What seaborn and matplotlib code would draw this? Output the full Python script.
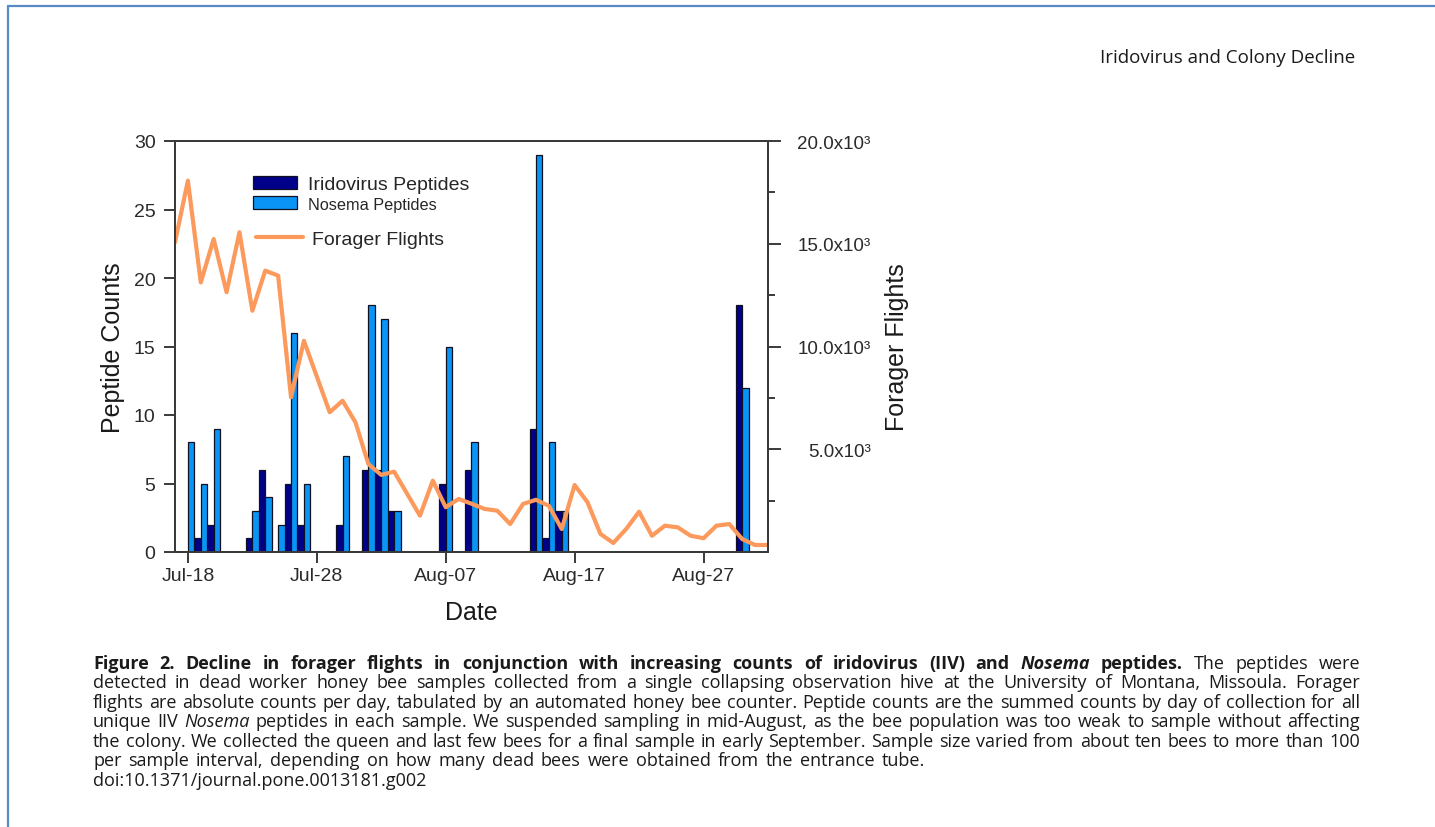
import pandas as pd
import numpy as np
import matplotlib
matplotlib.use("Agg")
import matplotlib.pyplot as plt
import matplotlib.dates as mdates
from matplotlib.lines import Line2D
import seaborn as sns

W, H = 1435, 828

# peptide samples (day of collection)
sample_dates = ["2009-07-18", "2009-07-19", "2009-07-20", "2009-07-23", "2009-07-24",
                "2009-07-25", "2009-07-26", "2009-07-27", "2009-07-30", "2009-08-01",
                "2009-08-02", "2009-08-03", "2009-08-07", "2009-08-09", "2009-08-14",
                "2009-08-15", "2009-08-16", "2009-08-30"]
iridovirus = [0, 1, 2, 1, 6, 0, 5, 2, 2, 6, 6, 3, 5, 6, 9, 1, 3, 18]
nosema = [8, 5, 9, 3, 4, 2, 16, 5, 7, 18, 17, 3, 15, 8, 29, 8, 3, 12]

# forager flights per day
flight_dates = ["2009-07-17", "2009-07-18", "2009-07-19", "2009-07-20", "2009-07-21",
                "2009-07-22", "2009-07-23", "2009-07-24", "2009-07-25", "2009-07-26",
                "2009-07-27", "2009-07-29", "2009-07-30", "2009-07-31", "2009-08-01",
                "2009-08-02", "2009-08-03", "2009-08-05", "2009-08-06", "2009-08-07",
                "2009-08-08", "2009-08-09", "2009-08-10", "2009-08-11", "2009-08-12",
                "2009-08-13", "2009-08-14", "2009-08-15", "2009-08-16", "2009-08-17",
                "2009-08-18", "2009-08-19", "2009-08-20", "2009-08-21", "2009-08-22",
                "2009-08-23", "2009-08-24", "2009-08-25", "2009-08-26", "2009-08-27",
                "2009-08-28", "2009-08-29", "2009-08-30", "2009-08-31", "2009-09-01"]
forager_flights = [15070, 18070, 13120, 15230, 12640, 15560, 11740, 13690, 13450, 7530,
                   10280, 6800, 7360, 6310, 4280, 3750, 3910, 1770, 3470, 2180,
                   2580, 2350, 2100, 2010, 1360, 2340, 2540, 2250, 1120, 3260,
                   2420, 880, 440, 1120, 1960, 790, 1280, 1200, 790, 670,
                   1280, 1360, 630, 340, 340]

date_ticks = ["2009-07-18", "2009-07-28", "2009-08-07", "2009-08-17", "2009-08-27"]
flight_ticks = [5000, 10000, 15000, 20000]
flight_tick_labels = ["5.0x10³", "10.0x10³", "15.0x10³", "20.0x10³"]

DARK = "#00008B"
LIGHT = "#0A94F5"
ORANGE = "#FB9A5C"
SPINE = "#3a3a3a"

sns.set_style("ticks")
plt.rcParams["font.family"] = ["Liberation Sans", "DejaVu Sans"]

fig = plt.figure(figsize=(W / 100, H / 100), dpi=100)
ax = fig.add_axes([175 / W, 1 - 553 / H, 593 / W, 411 / H])
ax2 = ax.twinx()

sd = pd.to_datetime(sample_dates)
quarter = pd.Timedelta(hours=6)
half = pd.Timedelta(hours=12)
b1 = ax.bar(sd - quarter, iridovirus, width=half, color=DARK, edgecolor="#101020", linewidth=0.9)
b2 = ax.bar(sd + quarter, nosema, width=half, color=LIGHT, edgecolor="#101020", linewidth=0.9)

sns.lineplot(x=pd.to_datetime(flight_dates), y=forager_flights, ax=ax2,
             color=ORANGE, linewidth=3, legend=False)

ax.set_xlim(pd.Timestamp("2009-07-17"), pd.Timestamp("2009-09-01"))
ax.set_xticks(pd.to_datetime(date_ticks))
ax.xaxis.set_major_formatter(mdates.DateFormatter("%b-%d"))
ax.set_ylim(0, 30)
ax.set_yticks(range(0, 31, 5))

ax2.set_ylim(0, 20000)
ax2.set_yticks(flight_ticks)
ax2.set_yticklabels(flight_tick_labels, ha="right")
ax2.set_yticks([2500, 7500, 12500, 17500], minor=True)

for a in (ax, ax2):
    for s in a.spines.values():
        s.set_visible(True)
        s.set_color(SPINE)
        s.set_linewidth(1.4)

ax.tick_params(axis="y", direction="out", length=8, width=1.4, color=SPINE,
               labelsize=14, labelcolor="#2a2a2a", pad=6)
ax.tick_params(axis="x", direction="out", length=8, width=1.4, color=SPINE,
               labelsize=14, labelcolor="#2a2a2a", pad=3)
ax2.tick_params(axis="y", which="major", direction="out", length=9, width=1.4,
                color=SPINE, labelsize=13.5, labelcolor="#2a2a2a", pad=65)
ax2.tick_params(axis="y", which="minor", direction="out", length=5, width=1.4, color=SPINE)

ax.set_xlabel("Date", fontsize=18, color="#1a1a1a")
ax.set_ylabel("Peptide Counts", fontsize=18, color="#1a1a1a")
ax2.set_ylabel("Forager Flights", fontsize=18, color="#1a1a1a")
ax.xaxis.set_label_coords(0.5, -0.118)
ax.yaxis.set_label_coords(-0.085, 0.5)
ax2.yaxis.set_label_coords(1.197, 0.5)

leg1 = ax2.legend([b1, b2], ["Iridovirus Peptides", "Nosema Peptides"],
                  loc="upper left", bbox_to_anchor=(253 / W, 1 - 177 / H),
                  bbox_transform=fig.transFigure, frameon=False, fontsize=14,
                  handlelength=2.27, handleheight=0.62, handletextpad=0.57,
                  labelspacing=0.15, borderpad=0, borderaxespad=0)
leg1.get_texts()[1].set_fontsize(11.7)
ax2.add_artist(leg1)
ax2.legend([Line2D([0], [0], color=ORANGE, lw=3)], ["Forager Flights"],
           loc="upper left", bbox_to_anchor=(256 / W, 1 - 231 / H),
           bbox_transform=fig.transFigure, frameon=False, fontsize=14,
           handlelength=2.4, handletextpad=0.5, borderpad=0, borderaxespad=0)

# page frame
fig.add_artist(Line2D([8 / W, 1], [1 - 7 / H, 1 - 7 / H], color="#5A8AC6", lw=1.6))
fig.add_artist(Line2D([8 / W, 8 / W], [0, 1 - 7 / H], color="#5A8AC6", lw=1.6))

CAP_FONT = ["Open Sans", "DejaVu Sans"]
fig.text(1355 / W, 1 - 63 / H, "Iridovirus and Colony Decline", ha="right",
         va="baseline", fontsize=13.5, family=CAP_FONT, color="#1a1a1a")

caption_lines = [
    [("Figure 2. Decline in forager flights in conjunction with increasing counts of iridovirus (IIV) and", "b"),
     ("Nosema", "bi"), ("peptides.", "b"), ("The peptides were", "r")],
    [("detected in dead worker honey bee samples collected from a single collapsing observation hive at the University of Montana, Missoula. Forager", "r")],
    [("flights are absolute counts per day, tabulated by an automated honey bee counter. Peptide counts are the summed counts by day of collection for all", "r")],
    [("unique IIV", "r"), ("Nosema", "i"), ("peptides in each sample. We suspended sampling in mid-August, as the bee population was too weak to sample without affecting", "r")],
    [("the colony. We collected the queen and last few bees for a final sample in early September. Sample size varied from about ten bees to more than 100", "r")],
    [("per sample interval, depending on how many dead bees were obtained from the entrance tube.", "r")],
    [("doi:10.1371/journal.pone.0013181.g002", "r")],
]
justified = [True, True, True, True, True, False, False]

renderer = fig.canvas.get_renderer()
x0, x1 = 93, 1360
cap_size = 13
for i, (segs, just) in enumerate(zip(caption_lines, justified)):
    y = 669 + 19.5 * i
    words = [(w, f) for text, f in segs for w in text.split()]
    arts = []
    for w, f in words:
        t = fig.text(0, 1 - y / H, w, fontsize=cap_size, family=CAP_FONT,
                     weight="bold" if "b" in f else "normal",
                     style="italic" if "i" in f else "normal",
                     ha="left", va="baseline", color="#1a1a1a")
        arts.append((t, t.get_window_extent(renderer).width))
    total = sum(wd for _, wd in arts)
    if just and len(arts) > 1:
        gap = (x1 - x0 - total) / (len(arts) - 1)
    else:
        gap = cap_size * 100 / 72 * 0.38
    x = x0
    for t, wd in arts:
        t.set_x(x / W)
        x += wd + gap

fig.savefig("out.png", dpi=100, facecolor="white")
